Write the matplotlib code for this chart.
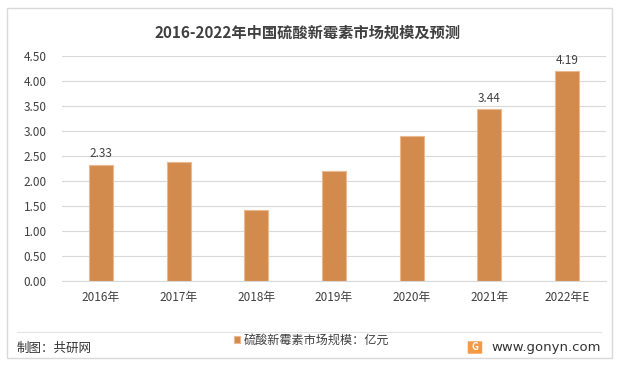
import matplotlib.pyplot as plt
from matplotlib.patches import Rectangle, FancyBboxPatch

plt.rcParams['font.family'] = ['Noto Sans CJK SC', 'DejaVu Sans']

years = ['2016年', '2017年', '2018年', '2019年', '2020年', '2021年', '2022年E']
values = [2.33, 2.39, 1.43, 2.21, 2.91, 3.44, 4.19]
labeled = {0: '2.33', 5: '3.44', 6: '4.19'}
yticks = [0, 0.5, 1.0, 1.5, 2.0, 2.5, 3.0, 3.5, 4.0, 4.5]

bar_color = '#D38B4D'
text_color = '#404040'
W, H = 619, 368

fig = plt.figure(figsize=(6.19, 3.68), dpi=100)
ax = fig.add_axes([62 / W, 1 - 281 / H, 544 / W, 225 / H])

x = range(len(years))
ax.bar(x, values, width=0.31, color=bar_color, edgecolor='#EBB88F', linewidth=0.8,
       zorder=3, label='硫酸新霉素市场规模：亿元')
for i, t in labeled.items():
    ax.text(i, values[i] + 0.09, t, ha='center', va='bottom', fontsize=8.5, color=text_color)

ax.set_xlim(-0.5, len(years) - 0.5)
ax.set_ylim(0, 4.5)
ax.set_yticks(yticks)
ax.set_yticklabels(['%.2f' % v for v in yticks], fontsize=8.5, color=text_color)
ax.set_xticks(list(x))
ax.set_xticklabels(years, fontsize=8.5, color=text_color)
ax.tick_params(axis='y', length=0, pad=11)
ax.tick_params(axis='x', length=0, pad=7)
ax.grid(axis='y', color='#D9D9D9', linewidth=0.8, zorder=0)
for s in ax.spines.values():
    s.set_visible(False)
ax.spines['bottom'].set_visible(True)
ax.spines['bottom'].set_color('#D9D9D9')

fig.text(308 / W, 1 - 33 / H, '2016-2022年中国硫酸新霉素市场规模及预测', ha='center',
         va='center', fontsize=11, fontweight='bold', color=text_color)

leg = fig.legend(loc='center', bbox_to_anchor=(312 / W, 1 - 340 / H), frameon=False,
                 fontsize=8.7, handlelength=0.5, handleheight=0.5, handletextpad=0.3)
for t in leg.get_texts():
    t.set_color(text_color)

# frame and separator
fig.add_artist(Rectangle((7 / W, 1 - 358 / H), 605 / W, 350 / H, transform=fig.transFigure,
                         fill=False, edgecolor='#D9D9D9', linewidth=1))
fig.add_artist(plt.Line2D([17 / W, 601 / W], [1 - 332 / H] * 2, transform=fig.transFigure,
                          color='#E3E3E3', linewidth=0.8))

fig.text(17 / W, 1 - 348 / H, '制图：共研网', ha='left', va='center', fontsize=9, color='#333333')
fig.text(601 / W, 1 - 347 / H, 'www.gonyn.com', ha='right', va='center', fontsize=9.5,
         color='#333333', family=['DejaVu Sans'])
fig.add_artist(FancyBboxPatch((469 / W, 1 - 353 / H), 12 / W, 11 / H,
                              boxstyle='round,pad=0.002', transform=fig.transFigure,
                              facecolor='#F39A4A', edgecolor='none'))
fig.text(475 / W, 1 - 347.5 / H, 'G', ha='center', va='center', fontsize=7,
         color='white', fontweight='bold')

fig.savefig('out.png', dpi=100)
